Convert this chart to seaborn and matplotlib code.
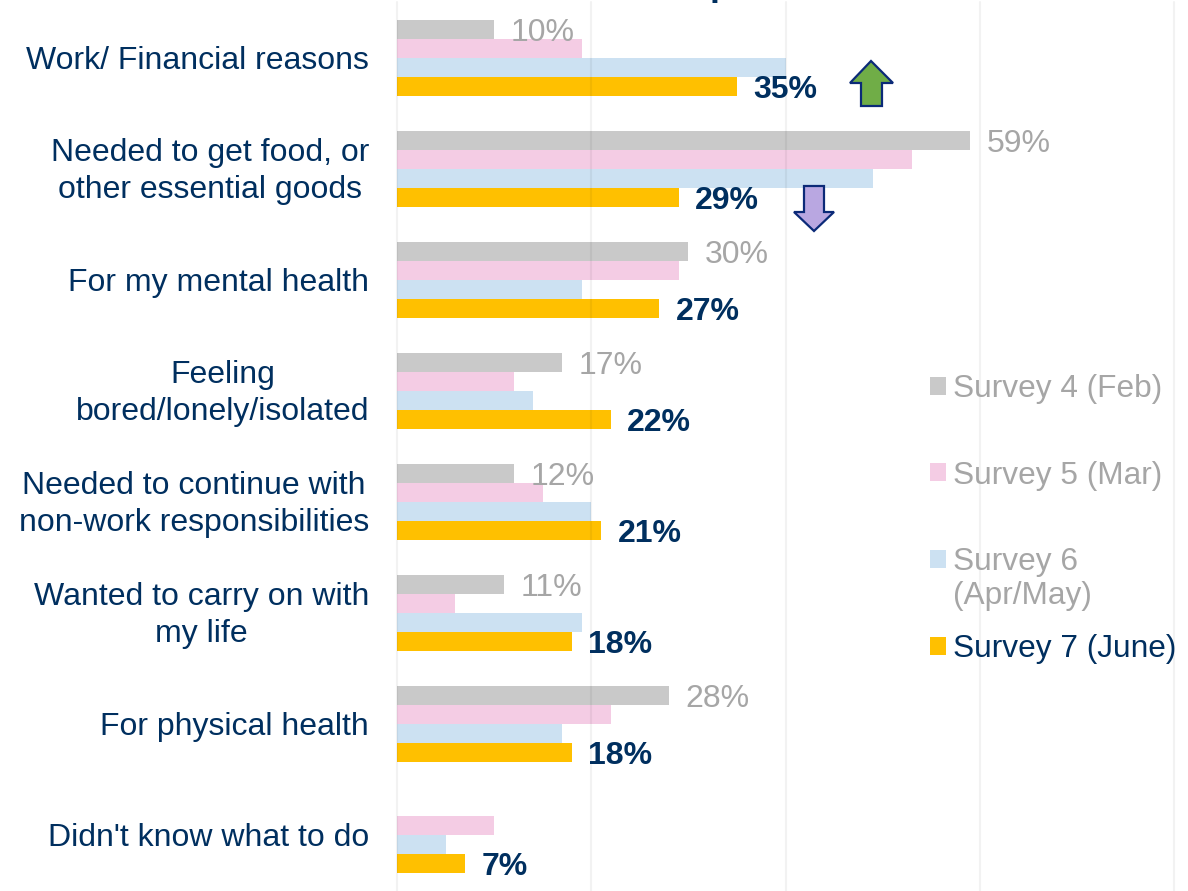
import numpy as np
import pandas as pd
import matplotlib
matplotlib.use("Agg")
import matplotlib.pyplot as plt
from matplotlib.patches import Polygon
from matplotlib.transforms import ScaledTranslation
import seaborn as sns

reasons = ["Work/ Financial reasons", "Needed to get food, or\nother essential goods",
           "For my mental health", "Feeling\nbored/lonely/isolated",
           "Needed to continue with\nnon-work responsibilities",
           "Wanted to carry on with\nmy life", "For physical health", "Didn't know what to do"]
surveys = ["Survey 4 (Feb)", "Survey 5 (Mar)", "Survey 6", "Survey 7 (June)"]
survey4 = [10, 59, 30, 17, 12, 11, 28, np.nan]
survey5 = [19, 53, 29, 12, 15, 6, 22, 10]
survey6 = [40, 49, 19, 14, 20, 19, 17, 5]
survey7 = [35, 29, 27, 22, 21, 18, 18, 7]
colors = ["#C9C9C9", "#F4CCE4", "#CCE1F2", "#FFC000"]
x_ticks = [0, 20, 40, 60, 80]

NAVY = "#002F5F"
GREY = "#A6A6A6"
W, H = 1188, 891
FS = 23
LEG_FS = 22.8

sns.set_theme(style="white")
plt.rcParams["font.family"] = ["Liberation Sans", "DejaVu Sans"]

df = pd.DataFrame({
    "reason": reasons * 4,
    "survey": np.repeat(surveys, len(reasons)),
    "value": survey4 + survey5 + survey6 + survey7,
})

fig = plt.figure(figsize=(W / 100, H / 100), dpi=100)
ax = fig.add_axes([397 / W, 1 - 890.5 / H, (1174 - 397) / W, 888 / H])

sns.barplot(data=df, y="reason", x="value", hue="survey", order=reasons, hue_order=surveys,
            palette=colors, orient="h", width=0.685, gap=0, saturation=1, linewidth=0,
            ax=ax, errorbar=None)

ax.set_xlim(0, 80)
ax.set_ylim(7.5, -0.5)
ax.set_xlabel("")
ax.set_ylabel("")
ax.set_xticks(x_ticks)
ax.set_xticklabels([])
ax.tick_params(axis="both", length=0)
ax.tick_params(axis="y", pad=20, labelsize=FS, labelcolor=NAVY)
for lbl in ax.get_yticklabels():
    lbl.set_multialignment("center")
    lbl.set_linespacing(1.3)
    if "\n" in lbl.get_text():
        lbl.set_transform(lbl.get_transform() + ScaledTranslation(0, 4 / 100, fig.dpi_scale_trans))
for s in ax.spines.values():
    s.set_visible(False)
ax.set_axisbelow(False)
ax.grid(axis="x", color="black", alpha=0.05, linewidth=1.5)
ax.grid(axis="y", visible=False)
for line in ax.get_xgridlines():
    line.set_clip_on(False)

anns = ax.bar_label(ax.containers[0], fmt="%g%%", padding=12, fontsize=FS, color=GREY)
anns += ax.bar_label(ax.containers[3], fmt="%g%%", padding=12, fontsize=FS, color=NAVY, fontweight="bold")
for a in anns:
    a.xyann = (a.xyann[0], a.xyann[1] - 2.2)

handles, labels = ax.get_legend_handles_labels()
leg = ax.legend(handles, labels, loc="upper left", bbox_to_anchor=(930 / W, 1 - 374 / H),
                bbox_transform=fig.transFigure, frameon=False, fontsize=LEG_FS, borderpad=0, borderaxespad=0,
                handlelength=0.5, handleheight=0.5, handletextpad=0.22, labelspacing=1.79)
for t, c in zip(leg.get_texts(), [GREY, GREY, GREY, NAVY]):
    t.set_color(c)
fig.text(953 / W, 1 - 596 / H, "(Apr/May)", fontsize=LEG_FS, color=GREY, ha="left", va="center")


def arrow(pts, face):
    verts = [(x / W, 1 - y / H) for x, y in pts]
    fig.add_artist(Polygon(verts, closed=True, transform=fig.transFigure, facecolor=face,
                           edgecolor="#0B2A78", linewidth=1.6, joinstyle="miter"))


arrow([(871, 61), (893, 83), (882, 83), (882, 106), (861, 106), (861, 83), (850, 83)], "#70AD47")
arrow([(814, 231), (834, 212), (824, 212), (824, 186), (804, 186), (804, 212), (794, 212)], "#B9A7E1")

fig.text(710 / W, 1 + 5 / H, "p", fontsize=26, fontweight="bold", color=NAVY, ha="left", va="baseline")

fig.savefig("out.png", dpi=100)
